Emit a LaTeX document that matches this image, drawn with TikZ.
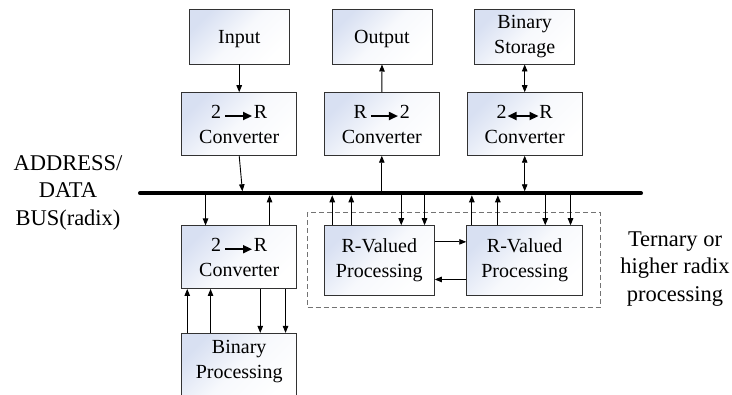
\documentclass[tikz,border=0pt]{standalone}
\usepackage{fontspec}
\setmainfont{Liberation Serif}
\usetikzlibrary{arrows.meta,calc}
\definecolor{boxblue}{RGB}{216,224,242}
\definecolor{boxline}{RGB}{50,50,50}
\newcommand{\convArrow}{\tikz[baseline=0pt]\draw[line width=1.8pt,-{Triangle[length=9pt,width=8pt]}] (0pt,2pt)--(27pt,2pt);}
\newcommand{\convDArrow}{\tikz[baseline=0pt]\draw[line width=1.8pt,{Triangle[length=9pt,width=8pt]}-{Triangle[length=9pt,width=8pt]}] (0pt,2pt)--(31pt,2pt);}
\begin{document}
\begin{tikzpicture}[x=1pt,y=-1pt,
  box/.style={draw=boxline,line width=0.9pt,top color=boxblue,bottom color=white,middle color=white!80!boxblue,shading angle=45,
    align=center,inner sep=0pt,font=\fontsize{20}{25}\selectfont},
  iobox/.style={box,minimum width=100pt,minimum height=54.7pt},
  convbox/.style={box,minimum width=115pt,minimum height=62.6pt},
  conn/.style={line width=0.9pt,-{Triangle[length=7pt,width=5.5pt]}},
  dconn/.style={line width=0.9pt,{Triangle[length=7pt,width=5.5pt]}-{Triangle[length=7pt,width=5.5pt]}},
  sidetext/.style={align=center,inner sep=0pt,font=\fontsize{22.5}{27.5}\selectfont}]
\useasboundingbox (0,0) rectangle (732,395);

% top row
\node[iobox,text depth=0pt] (in) at (239.2,36.7) {Input};
\node[iobox,text depth=0pt] (out) at (382,36.7) {Output};
\node[iobox] (bs) at (524.7,36.7) {Binary\\Storage};

% converters
\node[convbox] (c1) at (239.2,124) {2\hspace{3pt}\convArrow\hspace{1pt}R\\Converter};
\node[convbox] (c2) at (381.8,124) {R\hspace{3pt}\convArrow\hspace{1pt}2\\Converter};
\node[convbox] (c3) at (524.7,124) {2\convDArrow R\\Converter};
\node[convbox] (c4) at (239.2,257.2) {2\hspace{3pt}\convArrow\hspace{1pt}R\\Converter};

% binary processing (runs off the bottom)
\node[box,minimum width=115pt,minimum height=66.7pt] (bp) at (239.2,366.7) {Binary\\Processing\\[-9.7pt]\mbox{}};

% ternary group
\node[draw=black!55,dashed,dash pattern=on 5pt off 3pt,line width=0.9pt,minimum width=292.5pt,minimum height=95pt,inner sep=0pt] (grp) at (453.75,259.8) {};
\node[box,minimum width=110pt,minimum height=70pt] (rv1) at (379.3,260.7) {R-Valued\\Processing};
\node[box,minimum width=116pt,minimum height=69.6pt] (rv2) at (524.7,260.5) {R-Valued\\Processing};

% side texts
\node[sidetext] (addr) at (68,192.5) {ADDRESS/\\DATA\\BUS(radix)};
\node[sidetext] (tern) at (675,269) {Ternary or\\higher radix\\processing};

% bus
\coordinate (busL) at (140,193.3);
\coordinate (busR) at (641,193.3);

% connectors top
\draw[conn] (in.south) -- (c1.north);
\draw[conn,shorten >=2pt] (c1.south) -- ([xshift=3.4pt]c1.south |- busL);
\draw[conn] (c2.north) -- (out.south);
\draw[conn,shorten <=2pt] (c2.south |- busL) -- (c2.south);
\draw[dconn] (bs.south) -- (c3.north);
\draw[dconn,shorten >=2pt] (c3.south) -- (c3.south |- busL);

% lower converter
\draw[conn,shorten <=2pt] ([xshift=24.3pt]c4.north west |- busL) -- ([xshift=24.3pt]c4.north west);
\draw[conn,shorten >=2pt] ([xshift=88.3pt]c4.north west) -- ([xshift=88.3pt]c4.north west |- busL);
\foreach \dx in {6,29.3}
  \draw[conn] ([xshift=\dx pt]bp.north west) -- ([xshift=\dx pt]bp.north west |- c4.south);
\foreach \dx in {79,104.3}
  \draw[conn] ([xshift=\dx pt]c4.south west) -- ([xshift=\dx pt]c4.south west |- bp.north);

% R-valued processing
\foreach \dx in {8.4,27.4}
  \draw[conn,shorten >=2pt] ([xshift=\dx pt]rv1.north west) -- ([xshift=\dx pt]rv1.north west |- busL);
\foreach \dx in {77.4,100.7}
  \draw[conn,shorten <=2pt] ([xshift=\dx pt]rv1.north west |- busL) -- ([xshift=\dx pt]rv1.north west);
\foreach \dx in {5.6,31.6}
  \draw[conn,shorten >=2pt] ([xshift=\dx pt]rv2.north west) -- ([xshift=\dx pt]rv2.north west |- busL);
\foreach \dx in {79,104.3}
  \draw[conn,shorten <=2pt] ([xshift=\dx pt]rv2.north west |- busL) -- ([xshift=\dx pt]rv2.north west);
\draw[conn] ([yshift=-16.6pt]rv1.north east) -- ([yshift=-16.6pt]rv1.north east -| rv2.west);
\draw[conn] ([yshift=16.3pt]rv2.south west) -- ([yshift=16.3pt]rv2.south west -| rv1.east);

% the bus itself
\draw[line width=4pt,line cap=round] (busL) -- (busR);
\end{tikzpicture}
\end{document}
